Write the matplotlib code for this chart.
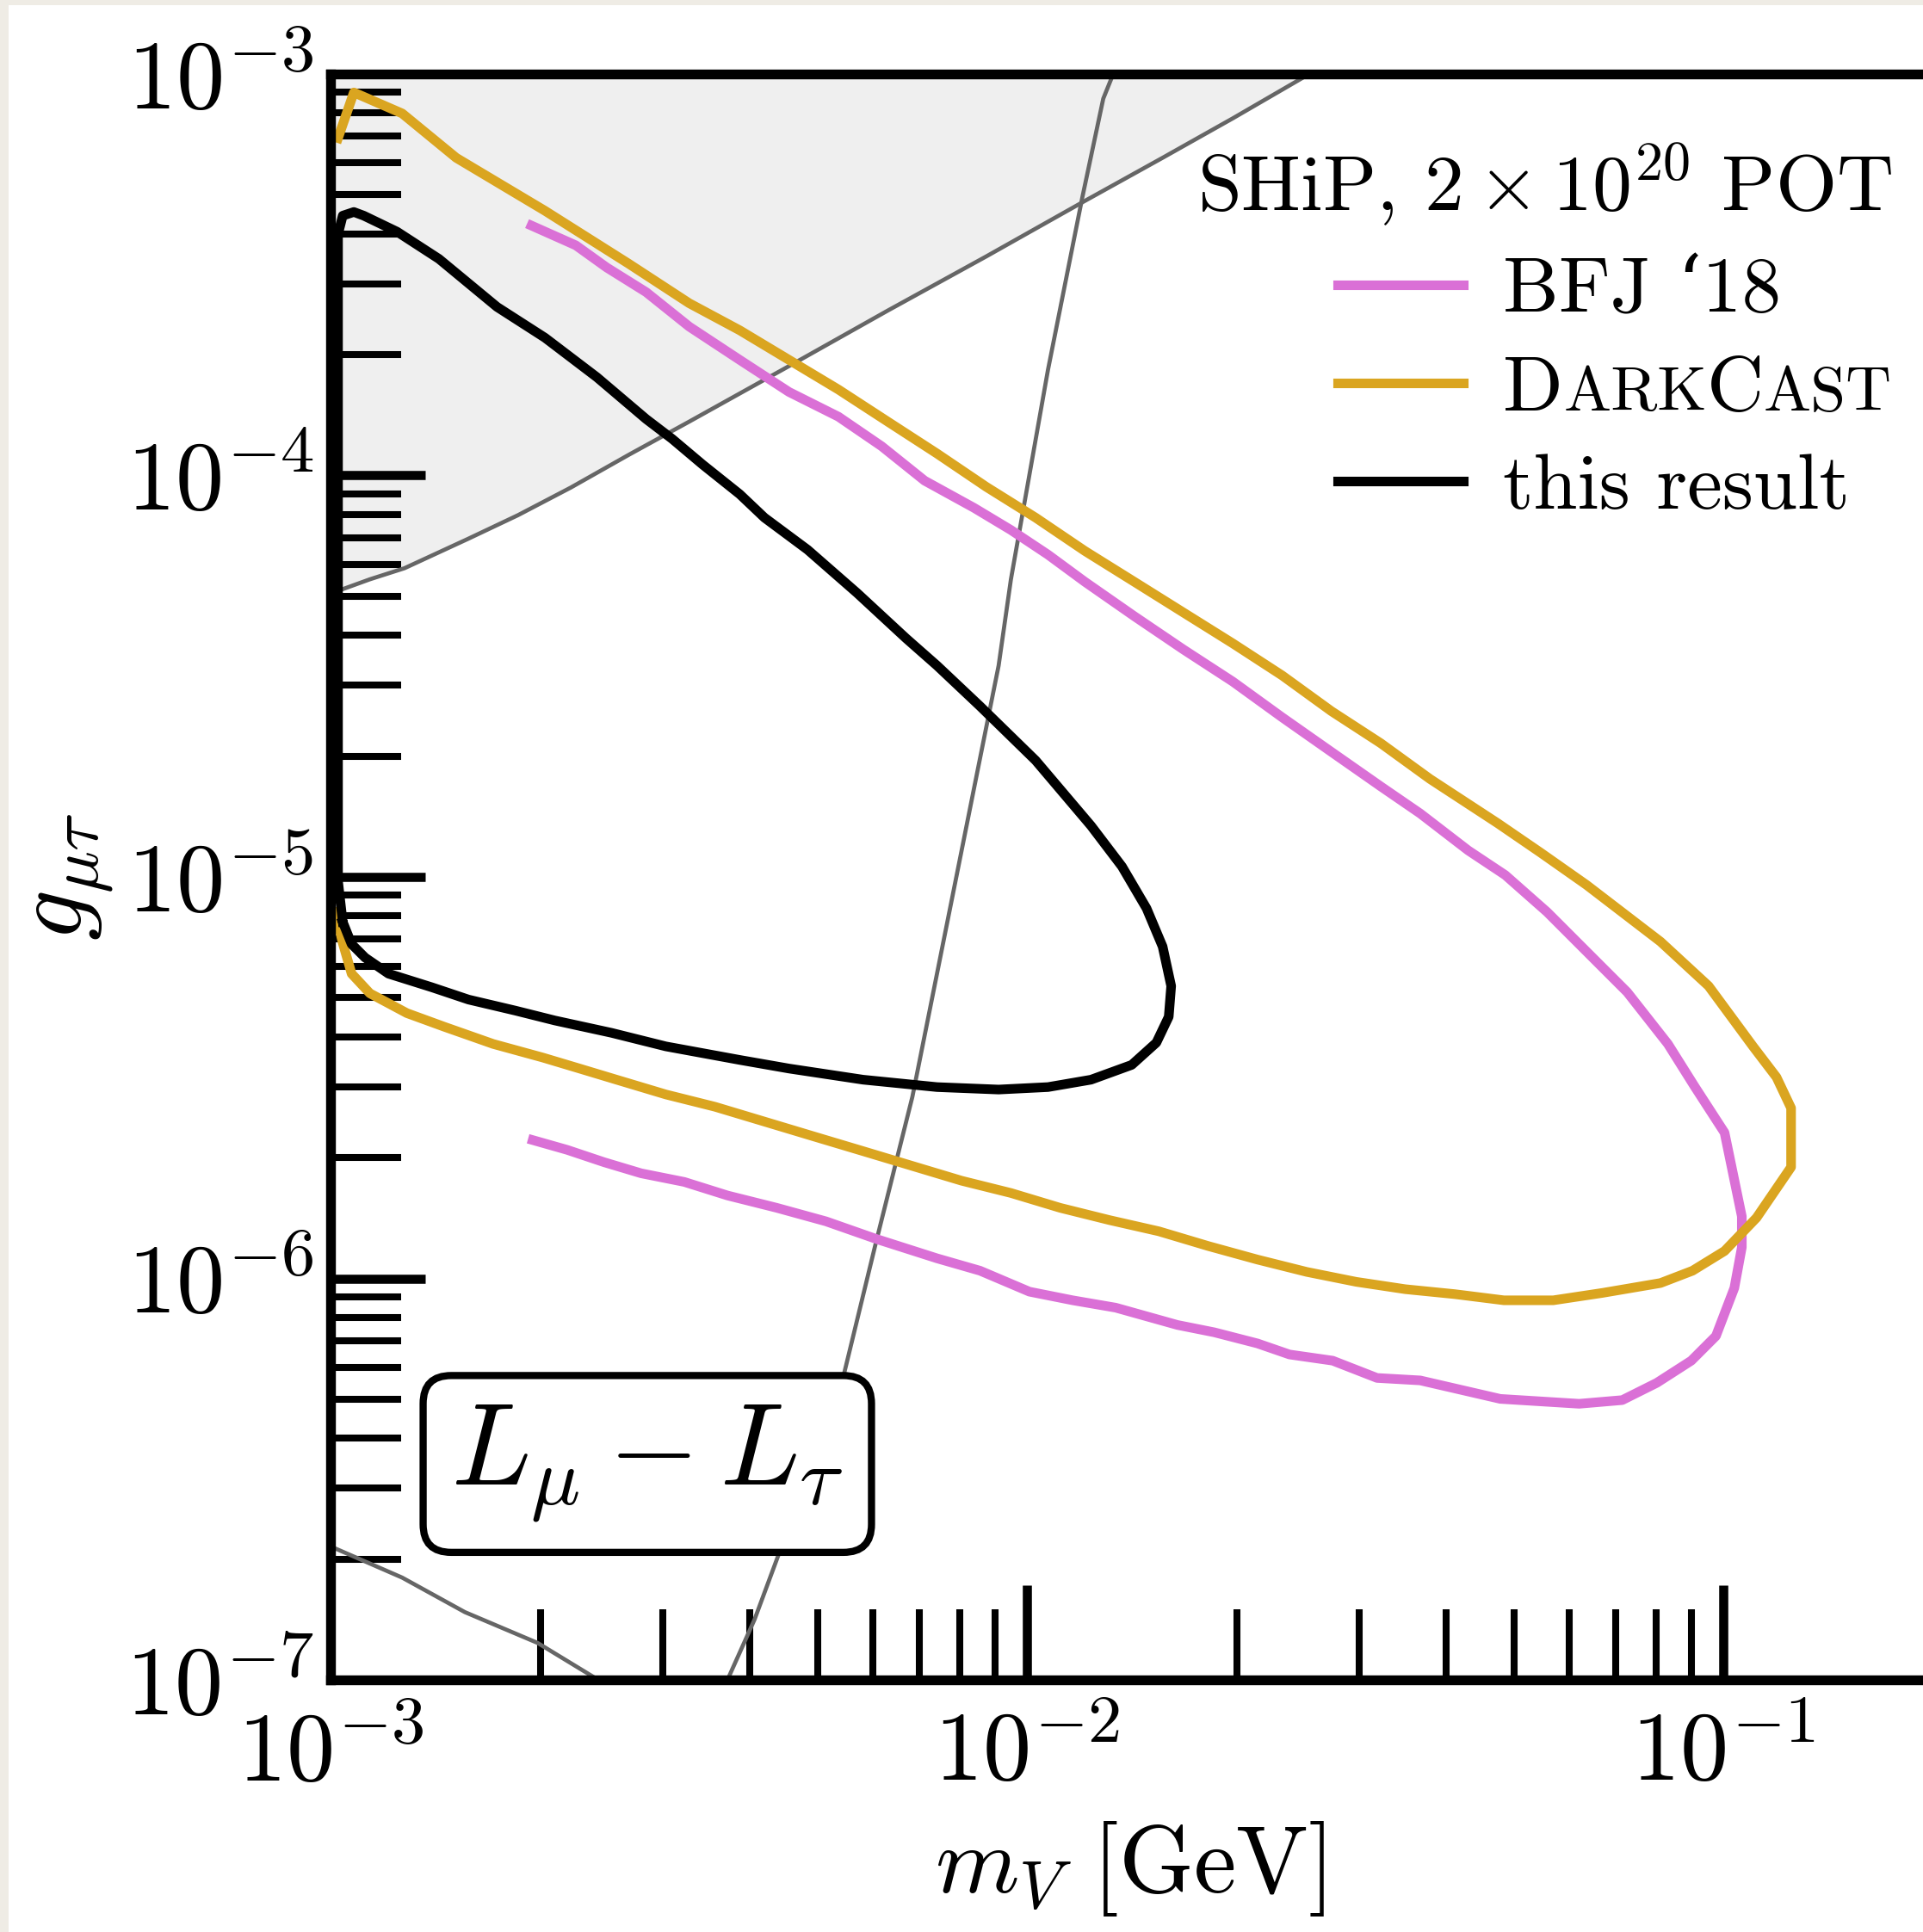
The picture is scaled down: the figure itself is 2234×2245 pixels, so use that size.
import matplotlib
matplotlib.use("Agg")
import matplotlib.pyplot as plt
from matplotlib.patches import Rectangle
from matplotlib.offsetbox import TextArea, HPacker
from matplotlib.ticker import NullFormatter

plt.rcParams['mathtext.fontset'] = 'cm'
plt.rcParams['font.family'] = ['cmr10', 'DejaVu Serif']
plt.rcParams['axes.formatter.use_mathtext'] = True

# BFJ '18 sensitivity contour (m_V [GeV], g)
bfj_m = [1.943e-3, 2.250e-3, 2.492e-3, 2.839e-3, 3.274e-3, 3.869e-3, 4.554e-3, 5.361e-3, 6.183e-3, 7.130e-3,
         8.393e-3, 9.484e-3, 1.072e-2, 1.211e-2, 1.426e-2, 1.678e-2, 1.975e-2, 2.325e-2, 2.736e-2, 3.221e-2,
         3.670e-2, 4.302e-2, 4.861e-2, 5.584e-2, 6.233e-2, 7.277e-2, 8.325e-2, 9.106e-2, 1.004e-1, 1.063e-1,
         1.063e-1, 1.037e-1, 9.758e-2, 8.995e-2, 8.024e-2, 7.159e-2, 6.208e-2, 4.782e-2, 3.670e-2, 3.182e-2,
         2.748e-2, 2.382e-2, 2.143e-2, 1.858e-2, 1.644e-2, 1.341e-2, 1.163e-2, 1.008e-2, 8.564e-3, 7.427e-3,
         6.058e-3, 5.146e-3, 4.373e-3, 3.715e-3, 3.221e-3, 2.793e-3, 2.471e-3, 2.187e-3, 1.951e-3]
bfj_g = [4.192e-4, 3.743e-4, 3.296e-4, 2.862e-4, 2.348e-4, 1.940e-4, 1.614e-4, 1.401e-4, 1.183e-4, 9.704e-5,
         8.307e-5, 7.314e-5, 6.350e-5, 5.435e-5, 4.461e-5, 3.685e-5, 3.066e-5, 2.498e-5, 2.049e-5, 1.681e-5,
         1.439e-5, 1.164e-5, 1.011e-5, 8.176e-6, 6.755e-6, 5.164e-6, 3.837e-6, 2.996e-6, 2.307e-6, 1.427e-6,
         1.195e-6, 9.467e-7, 7.186e-7, 6.239e-7, 5.493e-7, 4.976e-7, 4.872e-7, 5.011e-7, 5.571e-7, 5.650e-7,
         6.239e-7, 6.464e-7, 6.887e-7, 7.340e-7, 7.658e-7, 8.455e-7, 8.821e-7, 9.268e-7, 1.045e-6, 1.122e-6,
         1.256e-6, 1.387e-6, 1.499e-6, 1.609e-6, 1.739e-6, 1.827e-6, 1.947e-6, 2.090e-6, 2.211e-6]

# DarkCast contour
dc_m = [1.025e-3, 1.080e-3, 1.267e-3, 1.515e-3, 2.032e-3, 2.681e-3, 3.274e-3, 3.869e-3, 4.554e-3, 5.361e-3,
        6.310e-3, 7.427e-3, 8.742e-3, 1.029e-2, 1.211e-2, 1.426e-2, 1.678e-2, 1.975e-2, 2.325e-2, 2.736e-2,
        3.221e-2, 3.791e-2, 4.744e-2, 5.471e-2, 6.362e-2, 8.123e-2, 9.523e-2, 1.103e-1, 1.192e-1, 1.251e-1,
        1.251e-1, 1.116e-1, 1.004e-1, 9.031e-2, 8.123e-2, 6.708e-2, 5.699e-2, 4.841e-2, 4.113e-2, 3.494e-2,
        2.969e-2, 2.522e-2, 2.143e-2, 1.821e-2, 1.547e-2, 1.314e-2, 1.116e-2, 9.484e-3, 8.057e-3, 6.846e-3,
        5.816e-3, 4.941e-3, 4.198e-3, 3.566e-3, 3.030e-3, 2.574e-3, 2.278e-3, 2.016e-3, 1.712e-3, 1.455e-3,
        1.287e-3, 1.139e-3, 1.072e-3, 1.041e-3, 1.016e-3]
dc_g = [6.924e-4, 8.995e-4, 7.976e-4, 6.184e-4, 4.563e-4, 3.367e-4, 2.685e-4, 2.299e-4, 1.940e-4, 1.637e-4,
        1.362e-4, 1.134e-4, 9.367e-5, 7.851e-5, 6.486e-5, 5.435e-5, 4.555e-5, 3.817e-5, 3.176e-5, 2.588e-5,
        2.153e-5, 1.754e-5, 1.360e-5, 1.148e-5, 9.551e-6, 6.900e-6, 5.350e-6, 3.784e-6, 3.171e-6, 2.657e-6,
        1.893e-6, 1.416e-6, 1.170e-6, 1.045e-6, 9.738e-7, 9.203e-7, 8.820e-7, 8.820e-7, 9.138e-7, 9.400e-7,
        9.807e-7, 1.038e-6, 1.114e-6, 1.204e-6, 1.310e-6, 1.397e-6, 1.499e-6, 1.632e-6, 1.751e-6, 1.906e-6,
        2.075e-6, 2.258e-6, 2.458e-6, 2.676e-6, 2.872e-6, 3.126e-6, 3.332e-6, 3.550e-6, 3.837e-6, 4.237e-6,
        4.579e-6, 5.128e-6, 5.742e-6, 6.851e-6, 8.176e-6]

# this result
ship_m = [1.041e-3, 1.025e-3, 1.025e-3, 1.025e-3, 1.025e-3, 1.041e-3, 1.080e-3, 1.116e-3, 1.246e-3, 1.431e-3,
          1.734e-3, 2.032e-3, 2.412e-3, 2.839e-3, 3.093e-3, 3.423e-3, 3.869e-3, 4.198e-3, 4.841e-3, 5.699e-3,
          6.708e-3, 7.427e-3, 8.564e-3, 1.029e-2, 1.236e-2, 1.369e-2, 1.485e-2, 1.566e-2, 1.611e-2, 1.598e-2,
          1.534e-2, 1.414e-2, 1.236e-2, 1.072e-2, 9.106e-3, 7.427e-3, 5.816e-3, 4.554e-3, 3.869e-3, 3.030e-3,
          2.533e-3, 2.099e-3, 1.843e-3, 1.578e-3, 1.397e-3, 1.211e-3, 1.121e-3, 1.072e-3, 1.041e-3]
ship_g = [7.727e-6, 9.756e-6, 4.461e-5, 1.833e-4, 3.990e-4, 4.437e-4, 4.532e-4, 4.437e-4, 4.047e-4, 3.463e-4,
          2.629e-4, 2.203e-4, 1.757e-4, 1.382e-4, 1.234e-4, 1.064e-4, 8.979e-5, 7.851e-5, 6.533e-5, 5.101e-5,
          3.927e-5, 3.361e-5, 2.662e-5, 1.951e-5, 1.341e-5, 1.062e-5, 8.350e-6, 6.708e-6, 5.350e-6, 4.484e-6,
          3.865e-6, 3.403e-6, 3.126e-6, 2.996e-6, 2.954e-6, 2.996e-6, 3.126e-6, 3.332e-6, 3.501e-6, 3.784e-6,
          4.089e-6, 4.390e-6, 4.645e-6, 4.949e-6, 5.312e-6, 5.742e-6, 6.295e-6, 6.803e-6, 7.727e-6]

# excluded region (shaded above this line)
excl_m = [1.0e-3, 1.139e-3, 1.277e-3, 1.578e-3, 1.858e-3, 2.214e-3, 2.681e-3, 3.274e-3, 4.554e-3, 6.310e-3,
          8.742e-3, 1.211e-2, 1.566e-2, 1.975e-2, 2.543e-2]
excl_g = [5.08e-5, 5.513e-5, 5.875e-5, 6.961e-5, 7.962e-5, 9.334e-5, 1.126e-4, 1.362e-4, 1.873e-4, 2.574e-4,
          3.513e-4, 4.829e-4, 6.184e-4, 7.754e-4, 1.0e-3]

# other bounds
steep_m = [3.715e-3, 4.063e-3, 4.408e-3, 5.449e-3, 6.058e-3, 6.846e-3, 7.580e-3, 8.495e-3, 9.106e-3, 9.484e-3,
           1.072e-2, 1.201e-2, 1.287e-2, 1.330e-2]
steep_g = [1.0e-7, 1.414e-7, 2.071e-7, 5.691e-7, 1.212e-6, 2.832e-6, 6.851e-6, 1.843e-5, 3.361e-5, 5.513e-5,
           1.833e-4, 4.932e-4, 8.682e-4, 1.0e-3]
low_m = [1.0e-3, 1.267e-3, 1.559e-3, 1.983e-3, 2.392e-3]
low_g = [2.15e-7, 1.798e-7, 1.475e-7, 1.236e-7, 1.014e-7]

fig = plt.figure(figsize=(11.17, 11.225), dpi=200)
# right edge of the frame runs past the canvas
ax = fig.add_axes([0.1719, 0.1305, 0.9774, 0.8312])
ax.set_xscale('log')
ax.set_yscale('log')
ax.set_xlim(1e-3, 0.5)
ax.set_ylim(1e-7, 1e-3)

ax.fill_between(excl_m, excl_g, 1e-3, color='#efefef', lw=0)
ax.plot(excl_m, excl_g, color='#666666', lw=1.7)
ax.plot(steep_m, steep_g, color='#666666', lw=1.7)
ax.plot(low_m, low_g, color='#666666', lw=1.7)

ax.plot(bfj_m, bfj_g, color='orchid', lw=4.0, label='BFJ \u201818')
ax.plot(dc_m, dc_g, color='goldenrod', lw=4.0, label='DarkCast')
ax.plot(ship_m, ship_g, color='black', lw=4.0, label='this result')

for s in ax.spines.values():
    s.set_linewidth(4.1)
ax.tick_params(which='major', direction='in', length=39.6, width=3.8, labelsize=40.5, top=False, right=False)
ax.tick_params(which='minor', direction='in', length=29.5, width=2.9, top=False, right=False)
ax.tick_params(axis='x', which='major', pad=13)
ax.tick_params(axis='y', which='major', pad=7)
ax.xaxis.set_minor_formatter(NullFormatter())
ax.yaxis.set_minor_formatter(NullFormatter())

ax.set_xlabel(r'$m_V\ [\mathrm{GeV}]$', fontsize=40, x=0.3824 * 1.0864 / 0.9774, labelpad=8)
ax.set_ylabel(r'$g_{\mu\tau}$', fontsize=42, labelpad=4)

ax.text(2.85e-3, 3.45e-7, r'$L_\mu - L_\tau$', fontsize=49, ha='center', va='center',
        bbox=dict(boxstyle='round,pad=0.24', fc='white', ec='black', lw=3))

leg = ax.legend(title=r'SHiP, $2\times10^{20}$ POT', loc='upper right',
                bbox_to_anchor=(0.9839, 0.9265), bbox_transform=fig.transFigure,
                frameon=False, fontsize=33, title_fontsize=33, alignment='right',
                handlelength=1.6, handletextpad=0.5, labelspacing=0.35,
                borderpad=0, borderaxespad=0)
for line in leg.get_lines():
    line.set_linewidth(4.0)

# small-caps label for DarkCast
big = dict(fontsize=33, va='baseline', ha='left')
small = dict(fontsize=26.5, va='baseline', ha='left')
dc_label = HPacker(children=[TextArea('D', textprops=big), TextArea('ARK', textprops=small),
                             TextArea('C', textprops=big), TextArea('AST', textprops=small)],
                   align='baseline', pad=0, sep=0)
dc_label.set_figure(fig)
dc_row = leg._legend_handle_box.get_children()[0].get_children()[1]
dc_row.get_children()[1] = dc_label

# paper edge along the top and left
fig.add_artist(Rectangle((0, 0), 10 / 2234, 1, transform=fig.transFigure, color='#efece5', lw=0))
fig.add_artist(Rectangle((0, 1 - 6 / 2245), 1, 6 / 2245, transform=fig.transFigure, color='#efece5', lw=0))

fig.savefig('out.png', dpi=200)
